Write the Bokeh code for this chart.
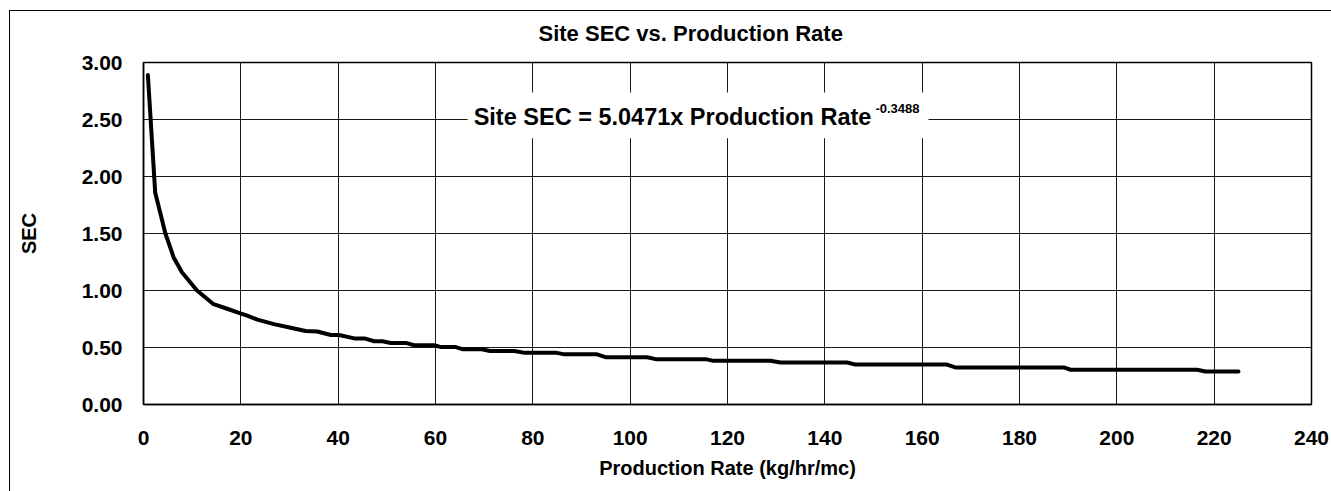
from bokeh.plotting import figure
from bokeh.models import FixedTicker, NumeralTickFormatter, Label, BoxAnnotation, Range1d, ColumnDataSource
from bokeh.embed import file_html
from bokeh.resources import INLINE

# Data (vertices of the plotted curve)
production_rate = [0.9, 2.4, 4.5, 6.2, 7.9, 11.0, 14.4, 17.2, 19.9, 21.3, 23.4, 26.8, 30.0,
                   33.3, 35.7, 38.5, 40.2, 43.3, 45.4, 47.4, 49.1, 50.8, 53.9, 55.6, 59.7,
                   61.0, 64.0, 65.5, 69.5, 71.2, 76.2, 78.1, 84.7, 86.5, 93.2, 94.9, 103.5,
                   105.2, 115.5, 117.1, 128.8, 130.9, 144.6, 146.3, 165.1, 166.8, 189.1,
                   190.5, 216.5, 218.2, 225.0]
site_sec = [2.89, 1.86, 1.50, 1.29, 1.16, 1.00, 0.88, 0.84, 0.80, 0.78, 0.745, 0.705, 0.675,
            0.645, 0.64, 0.61, 0.61, 0.58, 0.58, 0.555, 0.555, 0.54, 0.54, 0.52, 0.52,
            0.505, 0.505, 0.485, 0.485, 0.47, 0.47, 0.455, 0.455, 0.44, 0.44, 0.415, 0.415,
            0.398, 0.398, 0.383, 0.383, 0.368, 0.368, 0.35, 0.35, 0.325, 0.325,
            0.305, 0.305, 0.29, 0.29]
x_ticks = [0, 20, 40, 60, 80, 100, 120, 140, 160, 180, 200, 220, 240]
y_ticks = [0.0, 0.5, 1.0, 1.5, 2.0, 2.5, 3.0]

title_text = "Site SEC vs. Production Rate"
eq_text = "Site SEC = 5.0471x Production Rate"
eq_exp = "-0.3488"
x_label = "Production Rate (kg/hr/mc)"
y_label = "SEC"

FONT = "Liberation Sans"

p = figure(width=1322, height=491, output_backend="svg", toolbar_location=None,
           x_range=Range1d(0, 240), y_range=Range1d(0, 3.0),
           min_border_left=134, min_border_top=62, min_border_right=20, min_border_bottom=87)
p.margin = (0, 0, 0, 9)
p.styles = {
    "background": "linear-gradient(#000, #000) 0px 10px / 1px 100% no-repeat, "
                  "linear-gradient(#000, #000) 0px 10px / 100% 1px no-repeat, #ffffff"
}
p.border_fill_color = None
p.background_fill_color = "white"
p.outline_line_color = "black"
p.outline_line_width = 1.5

p.title.text = title_text
p.title.align = "left"
p.title.vertical_align = "bottom"
p.title.offset = 395
p.title.standoff = 34
p.title.text_font = FONT
p.title.text_font_style = "bold"
p.title.text_font_size = "22px"
p.title.text_color = "black"

src = ColumnDataSource(data=dict(x=production_rate, y=site_sec))
p.line("x", "y", source=src, line_color="black", line_width=4, line_join="round", line_cap="round")

for ax in (p.xaxis[0], p.yaxis[0]):
    ax.axis_line_color = "black"
    ax.axis_line_width = 1.5
    ax.major_tick_out = 0
    ax.major_tick_in = 0
    ax.minor_tick_out = 0
    ax.minor_tick_in = 0
    ax.major_label_text_font = FONT
    ax.major_label_text_font_style = "bold"
    ax.major_label_text_font_size = "21px"
    ax.major_label_text_color = "black"
    ax.axis_label_text_font = FONT
    ax.axis_label_text_font_style = "bold"
    ax.axis_label_text_font_size = "20px"
    ax.axis_label_text_color = "black"

p.xaxis.ticker = FixedTicker(ticks=x_ticks)
p.yaxis.ticker = FixedTicker(ticks=y_ticks)
p.yaxis.formatter = NumeralTickFormatter(format="0.00")
p.xaxis.major_label_standoff = 26
p.yaxis.major_label_standoff = 21
p.xaxis.axis_label = x_label
p.yaxis.axis_label = y_label
p.xaxis.axis_label_standoff = 9
p.yaxis.axis_label_standoff = 39

p.xgrid.ticker = FixedTicker(ticks=x_ticks)
p.ygrid.ticker = FixedTicker(ticks=y_ticks)
for g in (p.xgrid[0], p.ygrid[0]):
    g.grid_line_color = "black"
    g.grid_line_width = 1
    g.grid_line_alpha = 0.9

p.add_layout(BoxAnnotation(left=66.6, right=161.3, bottom=2.335, top=2.737,
                           fill_color="white", fill_alpha=1.0, line_color=None))

p.add_layout(Label(x=108.7, y=2.525, text=eq_text, text_align="center",
                   text_baseline="alphabetic", text_font=FONT, text_font_style="bold",
                   text_font_size="23.5px", text_color="black"))
p.add_layout(Label(x=150.4, y=2.60, text=eq_exp, text_align="left",
                   text_baseline="alphabetic", text_font=FONT, text_font_style="bold",
                   text_font_size="13px", text_color="black"))

open("out.html", "w").write(file_html(p, INLINE))
